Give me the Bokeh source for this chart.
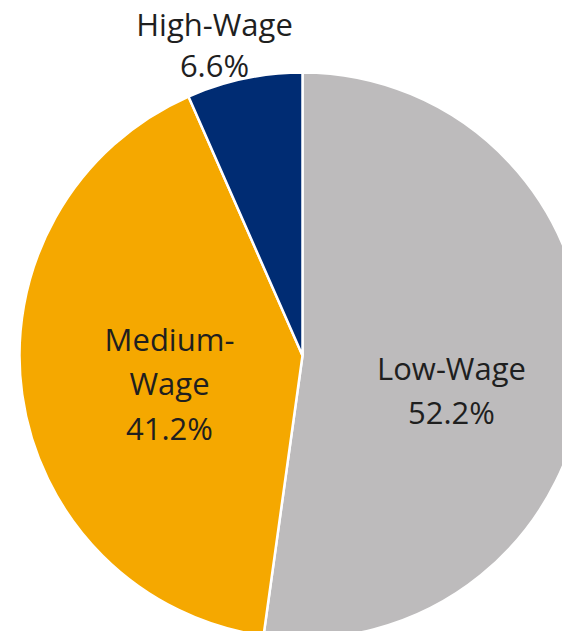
import math
from bokeh.plotting import figure
from bokeh.models import Range1d, ColumnDataSource
from bokeh.core.properties import value
from bokeh.embed import file_html
from bokeh.resources import INLINE

# ---- data ----
categories = ["Low-Wage", "Medium-Wage", "High-Wage"]
shares = [52.2, 41.2, 6.6]
label_lines = [["Low-Wage", "52.2%"], ["Medium-", "Wage", "41.2%"], ["High-Wage", "6.6%"]]
colors = ["#BDBBBC", "#F5A800", "#002C73"]

# ---- layout (pixel coordinates) ----
W, H = 562, 631
cx, cy, r = 302, 355, 283
label_pos = [(451, [367, 411]), (169, [338, 382, 427]), (214, [23, 64])]

p = figure(width=W, height=H, output_backend="svg", toolbar_location=None,
           x_range=Range1d(0, W), y_range=Range1d(-H, 0),
           min_border=0)
p.axis.visible = False
p.grid.visible = False
p.outline_line_color = None
p.background_fill_color = "white"
p.border_fill_color = "white"

total = sum(shares)
starts, ends = [], []
cum = 0.0
for s in shares:
    starts.append(math.pi / 2 - 2 * math.pi * cum / total)
    cum += s
    ends.append(math.pi / 2 - 2 * math.pi * cum / total)

src = ColumnDataSource(dict(start=starts, end=ends, color=colors, cat=categories))
p.wedge(x=cx, y=-cy, radius=r, start_angle="start", end_angle="end",
        direction="clock", fill_color="color", line_color="white",
        line_width=2.5, source=src)

xs, ys, texts = [], [], []
for (lx, bases), lines in zip(label_pos, label_lines):
    for b, t in zip(bases, lines):
        xs.append(lx)
        ys.append(-b)
        texts.append(t)

p.text(x=xs, y=ys, text=texts, text_font=value("Open Sans"),
       text_font_size="31px", text_color="#1F1F1F", text_align="center",
       text_baseline="alphabetic")

open("out.html", "w").write(file_html(p, INLINE))
